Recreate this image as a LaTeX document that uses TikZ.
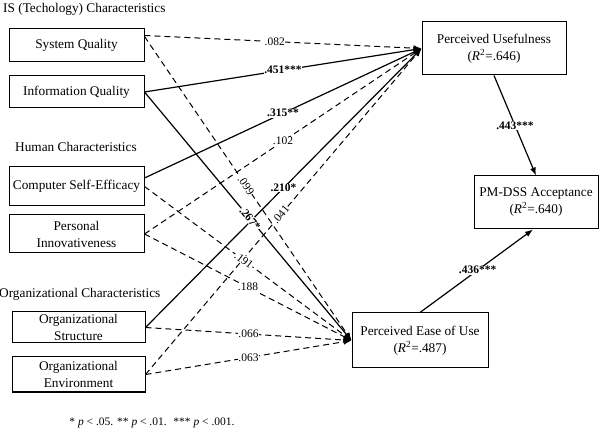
\documentclass[tikz,border=0pt]{standalone}
\usepackage{fontspec}
\setmainfont{Liberation Serif}
\usetikzlibrary{arrows.meta}
\begin{document}
\begin{tikzpicture}[x=1pt,y=-1pt,
 box/.style={draw,line width=1pt,align=center,inner sep=0pt,font=\fontsize{13.3}{17}\selectfont},
 grp/.style={anchor=west,inner sep=0pt,font=\fontsize{13.3}{16}\selectfont},
 sig/.style={line width=1.2pt,-{Latex[length=8pt,width=6pt]}},
 ns/.style={line width=1pt,dash pattern=on 6pt off 4pt,-{Latex[length=8pt,width=6pt]}},
 lab/.style={fill=white,inner sep=0.5pt,font=\fontsize{11.5}{12}\selectfont},
 blab/.style={fill=white,inner sep=0.5pt,font=\fontsize{11.5}{12}\selectfont\bfseries}]
\useasboundingbox (0,0) rectangle (600,430);

% group titles
\node[grp] (t1) at (3,9) {IS (Techology) Characteristics};
\node[grp] (t2) at (15,147) {Human Characteristics};
\node[grp] (t3) at (-1,294) {Organizational Characteristics};

% left boxes
\node[box,minimum width=135pt,minimum height=33pt] (sq) at (76.5,45.5) {System Quality};
\node[box,minimum width=135pt,minimum height=32pt] (iq) at (76.5,92) {Information Quality};
\node[box,minimum width=135pt,minimum height=39pt] (cse) at (76.5,186.5) {Computer Self-Efficacy};
\node[box,minimum width=135pt,minimum height=38pt] (pi) at (76.5,234) {Personal\\Innovativeness};
\node[box,minimum width=133pt,minimum height=31pt] (os) at (78.5,327.5) {Organizational\\Structure};
\node[box,minimum width=133pt,minimum height=35pt] (oe) at (78.5,374.5) {Organizational\\Environment};

% right boxes
\node[box,minimum width=144pt,minimum height=53pt] (pu) at (494,48.5) {Perceived Usefulness\\(\textit{R}\textsuperscript{2}=.646)};
\node[box,minimum width=124pt,minimum height=53pt] (pm) at (536,202.5) {PM-DSS Acceptance\\(\textit{R}\textsuperscript{2}=.640)};
\node[box,minimum width=136pt,minimum height=55pt] (peou) at (420,340.5) {Perceived Ease of Use\\(\textit{R}\textsuperscript{2}=.487)};

% paths to PU
\draw[ns] ([yshift=10pt]sq.east) -- node[lab,pos=.47]{.082} (pu.west);
\draw[sig] (iq.east) -- node[blab,pos=.5]{.451***} (pu.west);
\draw[sig] ([yshift=8.5pt]cse.east) -- node[blab,pos=.5]{.315**} (pu.west);
\draw[ns] (pi.east) -- node[lab,pos=.5]{.102} (pu.west);
\draw[sig] (os.east) -- node[blab,pos=.5]{.210*} (pu.west);
\draw[ns] (oe.east) -- node[lab,pos=.49,sloped]{.041} (pu.west);

% paths to PEOU
\draw[ns] ([yshift=9pt]sq.east) -- node[lab,pos=.49,sloped]{.099} (peou.west);
\draw[sig] (iq.east) -- node[blab,pos=.51,sloped]{.267*} (peou.west);
\draw[ns] (cse.east) -- node[lab,pos=.48,sloped]{.191} (peou.west);
\draw[ns] (pi.east) -- node[lab,pos=.5]{.188} (peou.west);
\draw[ns] (os.east) -- node[lab,pos=.5]{.066} (peou.west);
\draw[ns] (oe.east) -- node[lab,pos=.5]{.063} (peou.west);

% to acceptance
\draw[sig] (pu.south) -- node[blab,pos=.5]{.443***} (pm.north);
\draw[sig] (peou.north) -- node[blab,pos=.51]{.436***} ([xshift=-3pt]pm.south);

% footnote
\node[inner sep=0pt,font=\fontsize{11.5}{12}\selectfont] (fn) at (152,423) {* \textit{p} < .05. ** \textit{p} < .01. \ *** \textit{p} < .001.};
\end{tikzpicture}
\end{document}
